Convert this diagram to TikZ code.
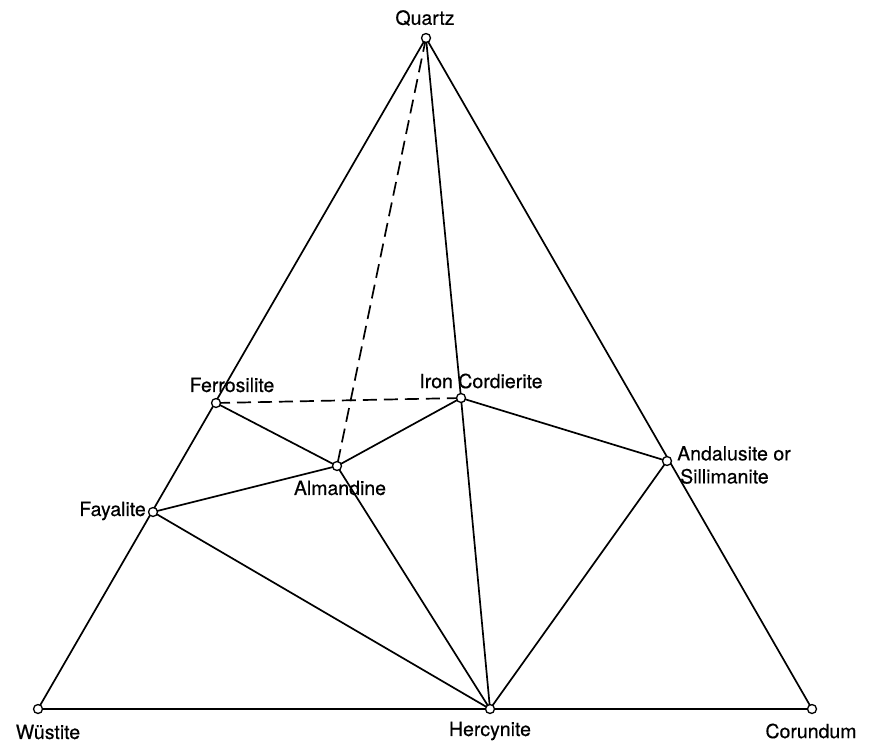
\documentclass[tikz,border=0pt]{standalone}
\usepackage{fontspec}
\setmainfont{TeX Gyre Heros}[FakeBold=0.4]
\begin{document}
\begin{tikzpicture}[x=1pt,y=-1pt,
  pt/.style={circle,draw,fill=white,inner sep=0pt,minimum size=9pt,line width=1.3pt},
  lbl/.style={font=\fontsize{19.5}{23}\selectfont,inner sep=0pt},
  edge/.style={line width=1.7pt},
  dedge/.style={line width=1.7pt,dash pattern=on 14pt off 7pt}]
\useasboundingbox (0,0) rectangle (872,744);
\coordinate (Q) at (426,38);
\coordinate (W) at (38,709);
\coordinate (C) at (812,709);
\coordinate (H) at (490,709);
\coordinate (F) at (216,403);
\coordinate (I) at (461,398);
\coordinate (A) at (667,461);
\coordinate (M) at (337,466);
\coordinate (Y) at (153,512);
% edges
\draw[edge] (Q) -- (W) -- (C) -- cycle;
\draw[edge] (Q) -- (I);
\draw[dedge] (Q) -- (M);
\draw[dedge] (F) -- (I);
\draw[edge] (F) -- (M) -- (I);
\draw[edge] (Y) -- (M) -- (H);
\draw[edge] (I) -- (H);
\draw[edge] (I) -- (A) -- (H);
\draw[edge] (Y) -- (H);
% points
\foreach \p in {Q,W,C,H,F,I,A,M,Y} \node[pt] (n\p) at (\p) {};
% labels
\node[lbl] (lQ) at (425,18) {Quartz};
\node[lbl] (lF) at (232,385) {Ferrosilite};
\node[lbl] (lI) at (481,381) {Iron Cordierite};
\node[lbl,anchor=west,align=left] (lA) at (677,465) {Andalusite or\\\hspace*{3pt}Sillimanite};
\node[lbl] (lM) at (340,488) {Almandine};
\node[lbl,anchor=east] (lY) at (146,511) {Fayalite};
\node[lbl] (lW) at (48,732) {Wüstite};
\node[lbl] (lH) at (490,731) {Hercynite};
\node[lbl] (lC) at (811,731) {Corundum};
\end{tikzpicture}
\end{document}
